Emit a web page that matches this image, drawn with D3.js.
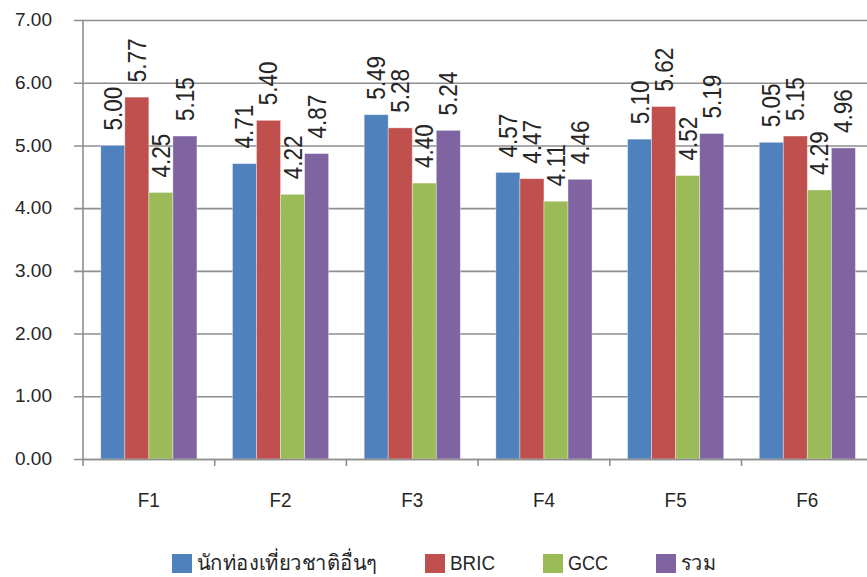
<!DOCTYPE html>
<html>
<head>
<meta charset="utf-8">
<script src="https://cdn.jsdelivr.net/npm/d3@7"></script>
<style>
  html, body { margin: 0; padding: 0; background: #fff; }
  svg { display: block; }
  text { font-family: "Liberation Sans", Arial, "Noto Sans", sans-serif; fill: #262626; }
</style>
</head>
<body>
<svg id="chart" width="867" height="577"></svg>
<script>
const categories = ["F1", "F2", "F3", "F4", "F5", "F6"];
const seriesNames = ["นักท่องเที่ยวชาติอื่นๆ", "BRIC", "GCC", "รวม"];
const seriesColors = ["#4F81BD", "#C0504D", "#9BBB59", "#8064A2"];
const othersValues = [5.00, 4.71, 5.49, 4.57, 5.10, 5.05];
const bricValues   = [5.77, 5.40, 5.28, 4.47, 5.62, 5.15];
const gccValues    = [4.25, 4.22, 4.40, 4.11, 4.52, 4.29];
const totalValues  = [5.15, 4.87, 5.24, 4.46, 5.19, 4.96];
const yTicks = [0, 1, 2, 3, 4, 5, 6, 7];

const seriesValues = [othersValues, bricValues, gccValues, totalValues];
const rows = categories.map((c, i) => ({
  cat: c,
  vals: seriesNames.map((s, j) => ({ series: s, idx: j, value: seriesValues[j][i] }))
}));

const svg = d3.select("#chart");
const W = 867;
const plotLeft = 83, plotTop = 20, plotBottom = 459;
const step = 131.7;

const y = d3.scaleLinear().domain([0, 7]).range([plotBottom, plotTop]);
const x0 = d3.scaleBand().domain(categories)
  .range([plotLeft, plotLeft + step * categories.length])
  .paddingInner(0.27).paddingOuter(0.135);
const x1 = d3.scaleBand().domain(seriesNames).range([0, x0.bandwidth()]);

const gridColor = "#8e8e8e";

// gridlines + y axis
const yAxis = d3.axisLeft(y).tickValues(yTicks).tickFormat(d3.format(".2f"))
  .tickSize(-(W - plotLeft + 10)).tickPadding(31);
const gy = svg.append("g").attr("transform", `translate(${plotLeft},0)`).call(yAxis);
gy.select(".domain").remove();
gy.selectAll(".tick line").attr("stroke", gridColor).attr("stroke-width", 1.6).attr("x1", -9);
gy.selectAll(".tick text")
  .style("font-size", "19px").attr("fill", "#262626").attr("dy", "0.3em");

// bars
const groups = svg.append("g").selectAll("g").data(rows).join("g")
  .attr("transform", d => `translate(${x0(d.cat)},0)`);
groups.selectAll("rect").data(d => d.vals).join("rect")
  .attr("x", d => x1(d.series))
  .attr("y", d => y(d.value))
  .attr("width", x1.bandwidth())
  .attr("height", d => y(0) - y(d.value))
  .attr("fill", d => seriesColors[d.idx])
  .attr("stroke", "#ffffff").attr("stroke-opacity", 0.45).attr("stroke-width", 0.8);

// data labels
const fs = 25;
groups.selectAll("text.lbl").data(d => d.vals).join("text")
  .attr("class", "lbl")
  .attr("transform", d => `translate(${x1(d.series) + x1.bandwidth() / 2 + 0.358 * fs},${y(d.value) - 15}) rotate(-90) scale(0.9,1)`)
  .attr("text-anchor", "start")
  .style("font-size", fs + "px")
  .text(d => d3.format(".2f")(d.value));

// y axis line
svg.append("line").attr("x1", plotLeft).attr("x2", plotLeft).attr("y1", plotTop).attr("y2", plotBottom)
  .attr("stroke", gridColor).attr("stroke-width", 1.6);

// x axis
const xAxis = d3.axisBottom(x0).tickSize(0).tickPadding(0);
const gx = svg.append("g").attr("transform", `translate(0,${plotBottom})`).call(xAxis);
gx.select(".domain").attr("stroke", gridColor).attr("stroke-width", 1.6);
gx.selectAll(".tick text").remove();
// category boundary ticks
const bounds = d3.range(categories.length + 1).map(i => plotLeft + i * x0.step());
svg.append("g").selectAll("line").data(bounds).join("line")
  .attr("x1", d => d).attr("x2", d => d).attr("y1", plotBottom).attr("y2", plotBottom + 7)
  .attr("stroke", gridColor).attr("stroke-width", 1.6);
// category labels
svg.append("g").selectAll("text").data(categories).join("text")
  .attr("transform", d => `translate(${x0(d) + x0.bandwidth() / 2},507) scale(0.9,1)`)
  .attr("text-anchor", "middle").style("font-size", "21px").text(d => d);

// legend
const leg = svg.append("g");
let lx = 172;
const legendTextWidths = [180, 45, 40, 35];
seriesNames.forEach((s, i) => {
  leg.append("rect").attr("x", lx).attr("y", 554).attr("width", 20).attr("height", 19)
    .attr("fill", seriesColors[i]);
  leg.append("text").attr("x", lx + 25).attr("y", 570)
    .style("font-size", "21px")
    .attr("textLength", legendTextWidths[i]).attr("lengthAdjust", "spacingAndGlyphs")
    .text(s);
  lx = lx + 25 + legendTextWidths[i] + 48;
});
</script>
</body>
</html>
